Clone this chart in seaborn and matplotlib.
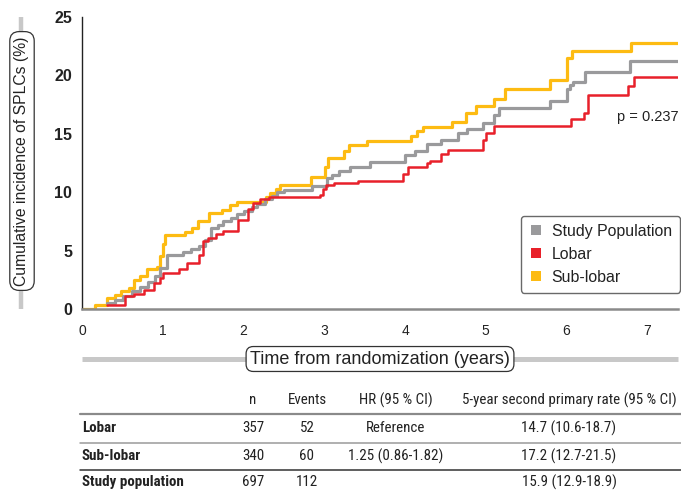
import matplotlib
matplotlib.use("Agg")
import matplotlib.pyplot as plt
from matplotlib.lines import Line2D
from matplotlib import font_manager
from matplotlib.font_manager import FontProperties
import seaborn as sns
import pandas as pd

# ---------------- data ----------------
sub_t = [0, 0.16, 0.31, 0.41, 0.48, 0.58, 0.64, 0.72, 0.80, 0.93, 0.97, 1.00, 1.03, 1.28, 1.36,
         1.44, 1.57, 1.73, 1.83, 1.92, 2.28, 2.33, 2.40, 2.45, 2.83, 3.01, 3.05, 3.24, 3.30, 3.53,
         4.08, 4.15, 4.22, 4.58, 4.75, 4.88, 5.10, 5.24, 5.80, 6.00, 6.07, 6.80, 7.38]
sub_v = [0, 0.3, 0.9, 1.2, 1.5, 1.8, 2.5, 2.8, 3.4, 3.6, 4.5, 5.6, 6.3, 6.6, 6.9,
         7.5, 8.2, 8.5, 8.9, 9.2, 9.6, 9.9, 10.3, 10.6, 11.3, 12.2, 12.9, 13.5, 14.0, 14.35,
         14.8, 15.2, 15.6, 16.0, 16.8, 17.4, 18.0, 18.8, 19.6, 21.5, 22.1, 22.8, 22.8]

pop_t = [0.31, 0.41, 0.51, 0.62, 0.72, 0.82, 0.91, 0.97, 1.05, 1.25, 1.35, 1.45, 1.52, 1.60,
         1.68, 1.75, 1.85, 1.92, 2.00, 2.10, 2.17, 2.27, 2.35, 2.42, 2.50, 2.85, 3.03, 3.10, 3.18,
         3.32, 3.57, 4.00, 4.12, 4.27, 4.44, 4.65, 4.77, 4.97, 5.10, 5.16, 5.80, 6.00, 6.04, 6.08,
         6.23, 6.78, 7.38]
pop_v = [0.5, 0.8, 1.1, 1.5, 1.9, 2.3, 2.8, 3.5, 4.65, 4.9, 5.1, 5.4, 5.9, 6.9,
         7.2, 7.5, 7.8, 8.1, 8.4, 8.7, 9.0, 9.4, 9.7, 10.0, 10.2, 10.5, 11.2, 11.5, 11.8,
         12.2, 12.6, 13.2, 13.5, 14.1, 14.5, 15.1, 15.4, 15.9, 16.6, 17.2, 17.8, 18.8, 19.2, 19.4,
         20.3, 21.2, 21.2]

lob_t = [0.31, 0.53, 0.64, 0.77, 0.89, 0.97, 1.00, 1.20, 1.30, 1.45, 1.50, 1.56, 1.66, 1.74,
         1.93, 2.05, 2.12, 2.20, 2.31, 2.95, 2.99, 3.02, 3.12, 3.42, 3.98, 4.04, 4.27, 4.31, 4.44,
         4.53, 4.97, 5.00, 5.10, 6.05, 6.22, 6.27, 6.76, 6.84, 7.38]
lob_v = [0.35, 1.1, 1.3, 1.65, 2.2, 2.65, 3.1, 3.4, 3.9, 4.65, 5.8, 6.1, 6.4, 6.7,
         7.6, 8.6, 9.1, 9.4, 9.55, 9.75, 10.3, 10.6, 10.8, 10.95, 11.6, 12.2, 12.5, 12.7, 13.3,
         13.6, 14.5, 15.1, 15.7, 16.3, 16.8, 18.3, 19.1, 19.9, 19.9]

groups = ["Study Population", "Lobar", "Sub-lobar"]
colors = {"Study Population": "#9a9a9c", "Lobar": "#e8202a", "Sub-lobar": "#fdbb12"}

x_ticks = [0, 1, 2, 3, 4, 5, 6, 7]
y_ticks = [0, 5, 10, 15, 20, 25]

tbl_cols = ["n", "Events", "HR (95 % CI)", "5-year second primary rate (95 % CI)"]
tbl_rows = ["Lobar", "Sub-lobar", "Study population"]
tbl_n = ["357", "340", "697"]
tbl_events = ["52", "60", "112"]
tbl_hr = ["Reference", "1.25 (0.86-1.82)", ""]
tbl_rate = ["14.7 (10.6-18.7)", "17.2 (12.7-21.5)", "15.9 (12.9-18.9)"]

# ---------------- style ----------------
sns.set_style("white")
plt.rcParams["font.family"] = ["Liberation Sans", "DejaVu Sans"]

TBL_SIZE = 10.8


def pick_condensed():
    """Find a condensed / narrow sans font (regular + bold)."""
    cond = {"condensed", "semi-condensed", "extra-condensed", "ultra-condensed"}
    fl = font_manager.fontManager.ttflist
    prefs = ["Liberation Sans Narrow", "Roboto Condensed", "Noto Sans", "Open Sans",
             "DejaVu Sans", "Arial Narrow"]
    for fam in prefs:
        cands = [f for f in fl if f.style == "normal" and (
            (f.name == fam and (f.stretch in cond or "ondensed" in f.fname or "arrow" in f.fname))
            or (f.name.startswith(fam) and ("Narrow" in f.name or "Condensed" in f.name)))]
        if not cands:
            continue
        def wnum(f):
            w = f.weight
            if isinstance(w, str):
                w = {"normal": 400, "regular": 400, "book": 400, "bold": 700}.get(w, 400)
            return w
        reg = [f for f in cands if wnum(f) == 400 and "Semi" not in f.fname and "Extra" not in f.fname]
        bold = [f for f in cands if wnum(f) == 700 and "Semi" not in f.fname and "Extra" not in f.fname]
        if reg and bold:
            return (FontProperties(fname=sorted(reg, key=lambda f: len(f.fname))[0].fname, size=TBL_SIZE),
                    FontProperties(fname=sorted(bold, key=lambda f: len(f.fname))[0].fname, size=TBL_SIZE),
                    True)
    return (FontProperties(family="Liberation Sans", size=8.8),
            FontProperties(family="Liberation Sans", weight="bold", size=8.8), False)


fp_reg, fp_bold, is_cond = pick_condensed()

fig = plt.figure(figsize=(6.81, 4.93), dpi=100)
W, H = 681, 493
ax = fig.add_axes([82 / W, 1 - 309 / H, 596 / W, 292 / H])

df = pd.concat([
    pd.DataFrame({"t": sub_t, "v": sub_v, "g": "Sub-lobar"}),
    pd.DataFrame({"t": pop_t, "v": pop_v, "g": "Study Population"}),
    pd.DataFrame({"t": lob_t, "v": lob_v, "g": "Lobar"}),
])
lws = {"Sub-lobar": 2.3, "Study Population": 2.3, "Lobar": 1.8}
for g in ["Sub-lobar", "Study Population", "Lobar"]:
    sns.lineplot(data=df[df.g == g], x="t", y="v", ax=ax, color=colors[g],
                 drawstyle="steps-post", estimator=None, lw=lws[g], legend=False,
                 sort=False)

ax.set_xlim(0, 7.38)
ax.set_ylim(0, 25)
ax.set_xticks(x_ticks)
ax.set_yticks(y_ticks)
ax.set_xlabel("")
ax.set_ylabel("")
for s in ["top", "right"]:
    ax.spines[s].set_visible(False)
ax.spines["left"].set_color("#222222")
ax.spines["left"].set_linewidth(1.0)
ax.spines["bottom"].set_color("#8a8a8a")
ax.spines["bottom"].set_linewidth(1.8)
ax.tick_params(axis="y", direction="in", length=9.5, width=1.0, color="#666666",
               pad=7, labelsize=11.5, labelcolor="#222222")
ax.tick_params(axis="x", direction="in", length=4.5, width=1.0, color="#777777",
               pad=11, labelsize=10, labelcolor="#222222")
for lab in ax.get_yticklabels():
    lab.set_fontweight("bold")

ax.text(6.62, 16.46, "p = 0.237", fontsize=10.5, va="center", ha="left",
        color="#222222", clip_on=False)

handles = [Line2D([], [], ls="none", marker="s", markersize=6.5, color=colors[g],
                  markeredgewidth=0) for g in groups]
leg = ax.legend(handles, groups, loc="lower right", bbox_to_anchor=(1.003, 0.056),
                borderaxespad=0, fontsize=11.4, frameon=True, fancybox=True,
                handlelength=0.9, handletextpad=0.55, labelspacing=0.5,
                borderpad=0.5)
leg.get_frame().set_edgecolor("#444444")
leg.get_frame().set_linewidth(1.0)
for t in leg.get_texts():
    t.set_color("#222222")

# axis title decorations: grey bars and rounded boxes
fig.add_artist(Line2D([21 / W, 21 / W], [1 - 17 / H, 1 - 309 / H], color="#c8c8c8",
                      lw=3.2, transform=fig.transFigure, solid_capstyle="butt"))
fig.text(22 / W, 1 - 161 / H, "Cumulative incidence of SPLCs (%)", rotation=90,
         fontsize=11.3, ha="center", va="center", color="#222222",
         bbox=dict(boxstyle="round,pad=0.3,rounding_size=0.6", fc="white",
                   ec="#333333", lw=0.9))

fig.add_artist(Line2D([82 / W, 678 / W], [1 - 359 / H, 1 - 359 / H], color="#c8c8c8",
                      lw=3.6, transform=fig.transFigure, solid_capstyle="butt"))
fig.text(380 / W, 1 - 359 / H, "Time from randomization (years)", fontsize=13,
         ha="center", va="center", color="#222222",
         bbox=dict(boxstyle="round,pad=0.22,rounding_size=0.4", fc="white",
                   ec="#333333", lw=0.9))

# ---------------- table ----------------
col_x = [253, 307, 396, 569]
hdr_y = 400
row_y = [428, 456, 482]
for x, c in zip(col_x, tbl_cols):
    fig.text(x / W, 1 - hdr_y / H, c, fontproperties=fp_reg, ha="center",
             va="center", color="#222222")
for i, r in enumerate(tbl_rows):
    y = 1 - row_y[i] / H
    fig.text(82 / W, y, r, fontproperties=fp_bold, ha="left",
             va="center", color="#222222")
    for x, val in zip(col_x, [tbl_n[i], tbl_events[i], tbl_hr[i], tbl_rate[i]]):
        fig.text(x / W, y, val, fontproperties=fp_reg, ha="center", va="center",
                 color="#222222")

for yy, col, lw in [(414, "#8a8a8a", 1.6), (443, "#9a9a9a", 1.1), (470, "#333333", 1.1)]:
    fig.add_artist(Line2D([80 / W, 1.0], [1 - yy / H, 1 - yy / H], color=col, lw=lw,
                          transform=fig.transFigure))

fig.savefig("out.png", dpi=100)
